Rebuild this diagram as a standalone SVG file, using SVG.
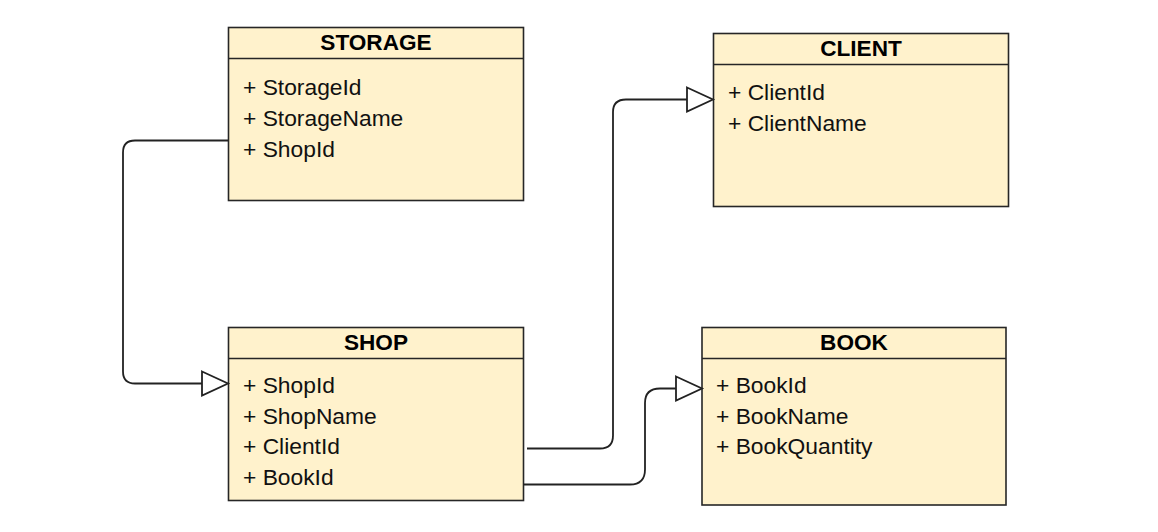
<svg xmlns="http://www.w3.org/2000/svg" width="1158" height="532" viewBox="0 0 1158 532">
<style>
.box{fill:#fff2cc;stroke:#262626;stroke-width:1.6}
.sep{stroke:#262626;stroke-width:1.6}
.title{font-family:"Liberation Sans",Arial,sans-serif;font-weight:bold;font-size:22.6px;fill:#000;text-anchor:middle}
.attr{font-family:"Liberation Sans",Arial,sans-serif;font-size:22.8px;fill:#111}
.conn{fill:none;stroke:#222;stroke-width:1.8}
.head{fill:#fff;stroke:#222;stroke-width:1.8}
</style>
<rect width="1158" height="532" fill="#fff"/>
<g id="storage">
<rect class="box" x="228.5" y="27.5" width="295" height="173"/>
<line class="sep" x1="228.5" y1="58.5" x2="523.5" y2="58.5"/>
<text class="title" x="376" y="50">STORAGE</text>
<text class="attr" x="243" y="95">+ StorageId</text>
<text class="attr" x="243" y="126">+ StorageName</text>
<text class="attr" x="243" y="156.5">+ ShopId</text>
</g>
<g id="client">
<rect class="box" x="713.5" y="33.5" width="295" height="173"/>
<line class="sep" x1="713.5" y1="64.5" x2="1008.5" y2="64.5"/>
<text class="title" x="861" y="56">CLIENT</text>
<text class="attr" x="728" y="100">+ ClientId</text>
<text class="attr" x="728" y="130.5">+ ClientName</text>
</g>
<g id="shop">
<rect class="box" x="228.5" y="327.5" width="295" height="173"/>
<line class="sep" x1="228.5" y1="358.5" x2="523.5" y2="358.5"/>
<text class="title" x="376" y="350">SHOP</text>
<text class="attr" x="243" y="393">+ ShopId</text>
<text class="attr" x="243" y="423.5">+ ShopName</text>
<text class="attr" x="243" y="454">+ ClientId</text>
<text class="attr" x="243" y="485">+ BookId</text>
</g>
<g id="book">
<rect class="box" x="702" y="327.5" width="304" height="177.5"/>
<line class="sep" x1="702" y1="358.5" x2="1006" y2="358.5"/>
<text class="title" x="854" y="350">BOOK</text>
<text class="attr" x="716" y="393">+ BookId</text>
<text class="attr" x="716" y="423.5">+ BookName</text>
<text class="attr" x="716" y="454">+ BookQuantity</text>
</g>
<g id="connectors">
<path class="conn" d="M228 140.5 H135 Q123 140.5 123 152.5 V371.5 Q123 383.5 135 383.5 H202"/>
<polygon class="head" points="202,371.5 228,383.5 202,395.5"/>
<path class="conn" d="M527 448.5 H600 Q613 448.5 613 435.5 V112 Q613 99.5 626 99.5 H687"/>
<polygon class="head" points="687,87.5 713,99.5 687,111.5"/>
<path class="conn" d="M523 484.5 H630 Q645 484.5 645 469.5 V403 Q645 388.5 660 388.5 H676"/>
<polygon class="head" points="676,376.5 702,388.5 676,400.5"/>
</g>
</svg>
